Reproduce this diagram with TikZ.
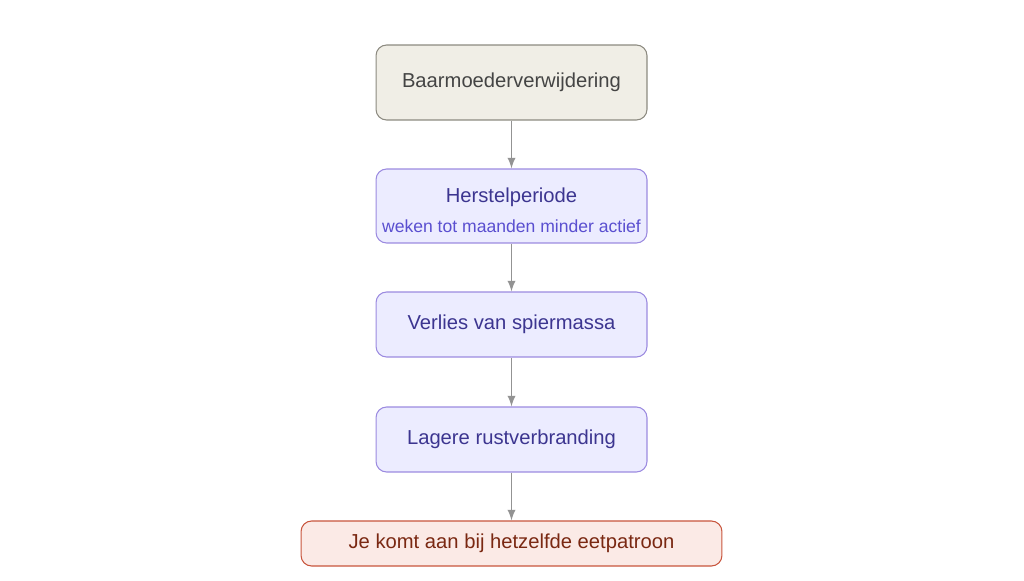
\documentclass[tikz,border=0pt]{standalone}
\usepackage{fontspec}
\setmainfont{Liberation Sans}
\definecolor{startfill}{HTML}{F0EEE6}
\definecolor{startline}{HTML}{8C8A80}
\definecolor{starttext}{HTML}{444444}
\definecolor{stagefill}{HTML}{ECECFF}
\definecolor{stageline}{HTML}{9B8AE0}
\definecolor{stagetext}{HTML}{3C3590}
\definecolor{notetext}{HTML}{5A4FD0}
\definecolor{endfill}{HTML}{FBEAE6}
\definecolor{endline}{HTML}{C8553D}
\definecolor{endtext}{HTML}{7A2812}
\tikzstyle{box} = [rectangle, rounded corners=6pt, line width=0.6pt, font=\fontsize{11.5}{13}\selectfont, inner sep=0pt]
\tikzstyle{start} = [box, fill=startfill, draw=startline, text=starttext, minimum width=5.42cm, minimum height=1.5cm]
\tikzstyle{stage} = [box, fill=stagefill, draw=stageline, text=stagetext, minimum width=5.42cm, minimum height=1.3cm]
\tikzstyle{stop} = [box, fill=endfill, draw=endline, text=endtext, minimum width=8.42cm, minimum height=0.9cm]
\tikzstyle{flow} = [->, >=latex, draw=gray!85, line width=1.1pt]

\begin{document}
\begin{tikzpicture}[x=0.02cm,y=-0.02cm]
			\useasboundingbox (0,0) rectangle (1024,581);
			\node[start] (surgery) at (511.5,82.5) {Baarmoederverwijdering};
			\node[stage, minimum height=1.48cm] (recovery) at (511.5,206) {};
			\node[text=stagetext, font=\fontsize{11.5}{13}\selectfont] (recoverytitle) at (511.5,197) {Herstelperiode};
			\node[text=notetext, font=\fontsize{10}{12}\selectfont] (recoverynote) at (511.5,226) {weken tot maanden minder actief};
			\node[stage] (muscle) at (511.5,324.5) {Verlies van spiermassa};
			\node[stage] (burn) at (511.5,439.5) {Lagere rustverbranding};
			\node[stop] (gain) at (511.5,543.5) {Je komt aan bij hetzelfde eetpatroon};
			\draw[flow] (surgery) -- (recovery);
			\draw[flow] (recovery) -- (muscle);
			\draw[flow] (muscle) -- (burn);
			\draw[flow] (burn) -- (gain);
		\end{tikzpicture}
\end{document}
